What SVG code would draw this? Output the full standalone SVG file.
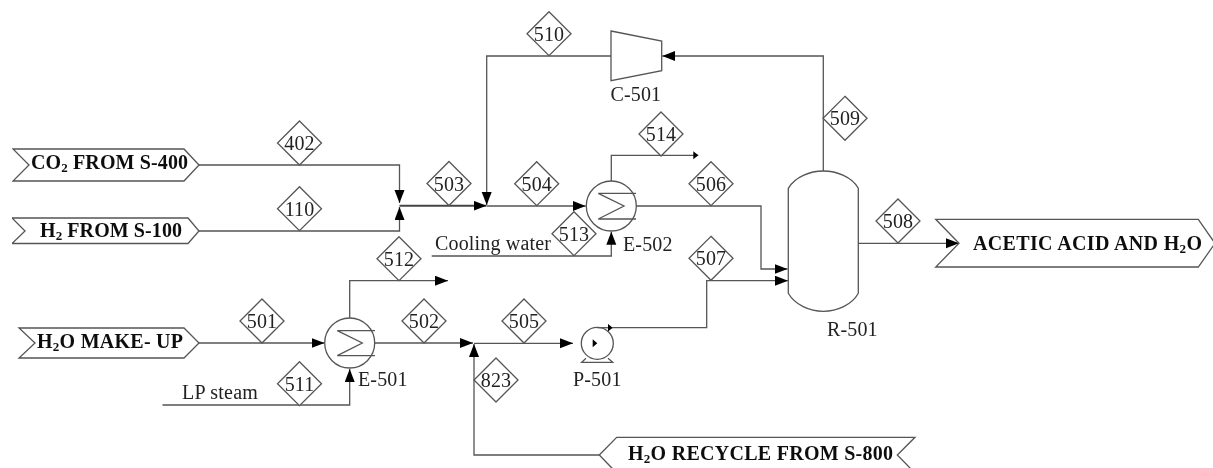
<svg xmlns="http://www.w3.org/2000/svg" width="1213" height="468" viewBox="0 0 1213 468">
<style>
.s{fill:none;stroke:#555;stroke-width:1.3}
.w{fill:#fff;stroke:#555;stroke-width:1.3}
.c{fill:none;stroke:#555;stroke-width:1.3;marker-end:url(#a)}
.t{font:20px "Liberation Serif","Times New Roman",serif;fill:#222;letter-spacing:.15px}
.m{text-anchor:middle}
.b{font:bold 20px "Liberation Serif","Times New Roman",serif;fill:#111}
.u{font-size:13px}
</style>
<defs>
<filter id="f" x="0" y="0" width="100%" height="100%"><feGaussianBlur stdDeviation="0.45"/></filter>
<marker id="a" markerUnits="userSpaceOnUse" markerWidth="14" markerHeight="11" refX="13" refY="5" orient="auto"><path d="M0 0L13 5L0 10Z" fill="#000"/></marker>
<marker id="n" markerUnits="userSpaceOnUse" markerWidth="6" markerHeight="9" refX="5" refY="4" orient="auto"><path d="M0 0L5 4L0 8Z" fill="#000"/></marker>
<polygon id="d" points="0,-22 22,0 0,22 -22,0" class="w"/>
</defs>
<rect width="1213" height="468" fill="#fff"/>
<g filter="url(#f)">
<g id="connectors">
<path class="c" d="M199 165H399.5V203"/>
<path class="c" d="M199 231H399.5V207"/>
<path class="c" style="stroke-width:1.9;stroke:#444" d="M399.5 205.7H486.5"/>
<path class="c" d="M611 56H486.7V205"/>
<path class="c" d="M487 206H585.7"/>
<path class="s" style="marker-end:url(#n)" d="M611.3 181V155.3H698.3"/>
<path class="c" d="M636 206H761V269H787.5"/>
<path class="c" d="M431.7 256H611.3V231.7"/>
<path class="c" d="M823.3 171V56H662.3"/>
<path class="c" d="M858.3 243.3H959"/>
<path class="c" d="M199 343H324.5"/>
<path class="c" d="M375 343H473"/>
<path class="c" d="M349.7 318V280.7H448"/>
<path class="c" d="M162.5 405H349.7V369"/>
<path class="c" d="M599.3 455H474V344"/>
<path class="c" d="M474 343.3H573"/>
<path class="s" style="marker-end:url(#n)" d="M597.3 327.7H612.7"/>
<path class="c" d="M612.7 327.7H706.7V280.7H788"/>
</g>
<g id="co2-feed"><polygon class="s" points="13,149 184,149 199,165 184,181 13,181 29,165"/><text class="b" x="31" y="169" textLength="157">CO<tspan class="u" dy="3">2</tspan><tspan dy="-3"> FROM S-400</tspan></text></g>
<g id="h2-feed"><polygon class="s" points="12,218 188,218 199,231 188,243.5 12,243.5 25,231"/><text class="b" x="40" y="237" textLength="142">H<tspan class="u" dy="3">2</tspan><tspan dy="-3"> FROM S-100</tspan></text></g>
<g id="h2o-makeup"><polygon class="s" points="19,328 184,328 199,343 184,358 19,358 35,343"/><text class="b" x="37" y="348" textLength="146">H<tspan class="u" dy="3">2</tspan><tspan dy="-3">O MAKE- UP</tspan></text></g>
<g id="h2o-recycle"><polygon class="s" points="599.3,455 616.7,437.3 915,437.3 897.3,455 915,473 616.7,473"/><text class="b" x="628" y="460" textLength="265">H<tspan class="u" dy="3">2</tspan><tspan dy="-3">O RECYCLE FROM S-800</tspan></text></g>
<g id="product"><polygon class="s" points="935.7,219.3 1198.3,219.3 1215,243.3 1198.3,267 935.7,267 959,243.3"/><text class="b" x="973" y="249.5" textLength="229">ACETIC ACID AND H<tspan class="u" dy="3">2</tspan><tspan dy="-3">O</tspan></text></g>
<g id="E-501"><circle class="s" cx="349.7" cy="343" r="25"/><path class="s" d="M375 330.7H337.3L362.3 343L337.3 355.7H375"/><text class="t" x="358" y="385.7">E-501</text></g>
<g id="E-502"><circle class="s" cx="611.3" cy="206" r="25"/><path class="s" d="M636 193.3H598.3L624 206L598.3 219H636"/><text class="t" x="623" y="251">E-502</text></g>
<g id="C-501"><polygon class="s" points="611,31 661.7,41 661.7,70.7 611,80.7"/><text class="t" x="610.5" y="101">C-501</text></g>
<g id="P-501"><circle class="s" cx="597.3" cy="343.3" r="16"/><path class="s" d="M586 358.3L581.7 362.3H612.7L608 358.3"/><path d="M592.7 339.3L597.3 343.3L592.7 347.3Z" fill="#000"/><text class="t" x="573" y="386">P-501</text></g>
<g id="R-501"><path class="s" d="M788.3 188.3C795 177 810 171 823.3 171S852 177 858.3 188.3V293.3C852 305 837 311.3 823.3 311.3S795 305 788.3 293.3Z"/><text class="t" x="827" y="336">R-501</text></g>
<g id="labels"><text class="t" x="182" y="399" textLength="76">LP steam</text><text class="t" x="435" y="249.5" textLength="116">Cooling water</text></g>
<g id="s402" transform="translate(299.5 143)"><use href="#d"/><text class="t m" y="7">402</text></g>
<g id="s110" transform="translate(299.5 208.7)"><use href="#d"/><text class="t m" y="7">110</text></g>
<g id="s503" transform="translate(449 183.5)"><use href="#d"/><text class="t m" y="7">503</text></g>
<g id="s512" transform="translate(399 258.7)"><use href="#d"/><text class="t m" y="7">512</text></g>
<g id="s501" transform="translate(262 321)"><use href="#d"/><text class="t m" y="7">501</text></g>
<g id="s502" transform="translate(424 321)"><use href="#d"/><text class="t m" y="7">502</text></g>
<g id="s511" transform="translate(299.5 383.7)"><use href="#d"/><text class="t m" y="7">511</text></g>
<g id="s505" transform="translate(524 321)"><use href="#d"/><text class="t m" y="7">505</text></g>
<g id="s823" transform="translate(496 380)"><use href="#d"/><text class="t m" y="7">823</text></g>
<g id="s507" transform="translate(711 258.3)"><use href="#d"/><text class="t m" y="7">507</text></g>
<g id="s510" transform="translate(549 33.7)"><use href="#d"/><text class="t m" y="7">510</text></g>
<g id="s509" transform="translate(845 118.3)"><use href="#d"/><text class="t m" y="7">509</text></g>
<g id="s514" transform="translate(661 134)"><use href="#d"/><text class="t m" y="7">514</text></g>
<g id="s504" transform="translate(536.7 183.7)"><use href="#d"/><text class="t m" y="7">504</text></g>
<g id="s506" transform="translate(711 183.7)"><use href="#d"/><text class="t m" y="7">506</text></g>
<g id="s513" transform="translate(574 233.7)"><use href="#d"/><text class="t m" y="7">513</text></g>
<g id="s508" transform="translate(898 221)"><use href="#d"/><text class="t m" y="7">508</text></g>
</g>
</svg>
